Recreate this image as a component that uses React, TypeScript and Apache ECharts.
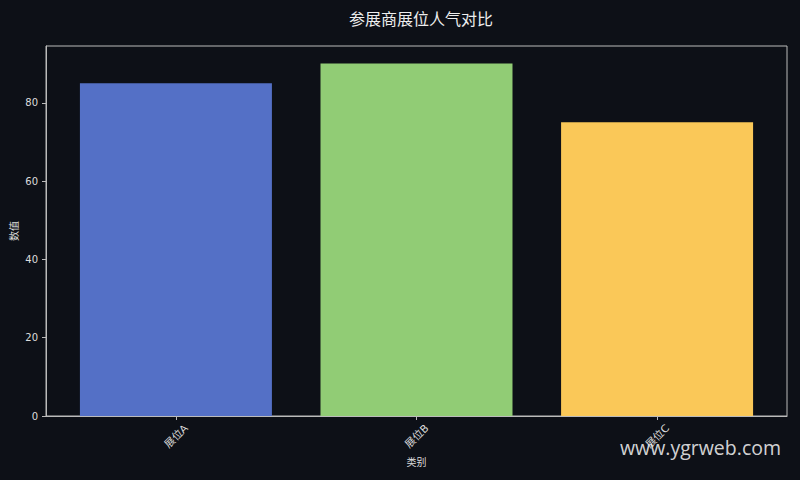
import React, { useEffect, useRef } from 'react';
import * as echarts from 'echarts';

const categories = ['展位A', '展位B', '展位C'];
const values = [85, 90, 75];
const barColors = ['#5470c6', '#91cc75', '#fac858'];
const yTicks = [0, 20, 40, 60, 80];

const FONT = '"DejaVu Sans", "Noto Sans CJK SC", sans-serif';
const TEXT = '#dddddd';
const LINE = '#bbbbbb';

export default function App() {
  const chartRef = useRef<HTMLDivElement>(null);

  useEffect(() => {
    document.body.style.margin = '0';
    if (!chartRef.current) return;
    const chart = echarts.init(chartRef.current, undefined, { renderer: 'svg' });

    const option: echarts.EChartsOption = {
      animation: false,
      backgroundColor: '#0d1017',
      textStyle: { fontFamily: FONT },
      title: {
        text: '参展商展位人气对比',
        left: 416,
        textAlign: 'center',
        top: 6,
        textStyle: { color: '#eeeeee', fontSize: 16, fontWeight: 'normal', fontFamily: FONT },
      },
      grid: {
        left: 46,
        right: 13,
        top: 46,
        bottom: 64,
        outerBoundsMode: 'none',
        containLabel: false,
        show: true,
        borderColor: LINE,
        borderWidth: 1,
        backgroundColor: 'transparent',
      } as any,
      xAxis: {
        type: 'value',
        min: -0.54,
        max: 2.54,
        name: '类别',
        nameLocation: 'middle',
        nameGap: 41,
        nameMoveOverlap: false,
        nameTextStyle: { color: TEXT, fontSize: 10, fontFamily: FONT },
        splitLine: { show: false },
        axisLine: { show: true, onZero: false, lineStyle: { color: LINE } },
        axisTick: {
          show: true,
          length: 4,
          lineStyle: { color: LINE },
          customValues: categories.map((_, i) => i),
        },
        axisLabel: {
          color: TEXT,
          fontSize: 10.5,
          fontFamily: FONT,
          rotate: 45,
          align: 'center',
          verticalAlign: 'middle',
          margin: 20,
          customValues: categories.map((_, i) => i),
          formatter: (v: number) => categories[Math.round(v)] ?? '',
        },
      } as any,
      yAxis: {
        type: 'value',
        min: 0,
        max: 94.5,
        name: '数值',
        nameLocation: 'middle',
        nameGap: 27,
        nameMoveOverlap: false,
        nameRotate: 90,
        nameTextStyle: { color: TEXT, fontSize: 10, fontFamily: FONT },
        splitLine: { show: false },
        axisLine: { show: true, onZero: false, lineStyle: { color: LINE } },
        axisTick: {
          show: true,
          length: 4,
          lineStyle: { color: LINE },
          customValues: yTicks,
        },
        axisLabel: {
          color: TEXT,
          fontSize: 10,
          fontFamily: FONT,
          margin: 8,
          customValues: yTicks,
        },
      } as any,
      series: [
        {
          type: 'bar',
          barWidth: 192,
          data: values.map((v, i) => ({
            value: [i, v],
            itemStyle: { color: barColors[i] },
          })),
        },
      ],
      graphic: [
        {
          type: 'text',
          right: 19,
          top: 437,
          style: {
            text: 'www.ygrweb.com',
            fill: 'rgba(235,235,235,0.9)',
            fontSize: 19.5,
            fontFamily: '"Open Sans", "DejaVu Sans", sans-serif',
          },
          z: 100,
        },
      ],
    };

    chart.setOption(option);
    return () => {
      chart.dispose();
    };
  }, []);

  return <div ref={chartRef} style={{ width: 800, height: 480 }} />;
}
